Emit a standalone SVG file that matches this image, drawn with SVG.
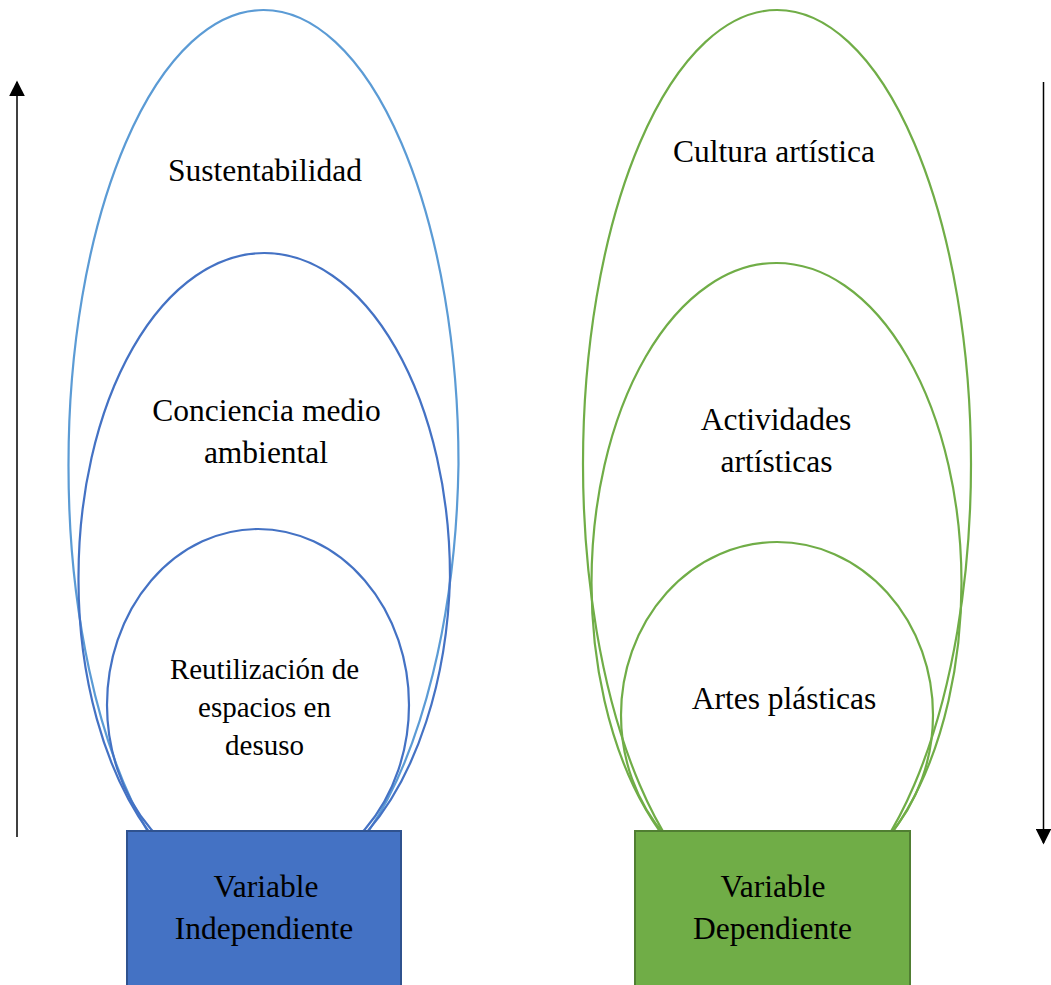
<svg xmlns="http://www.w3.org/2000/svg" width="1051" height="985" viewBox="0 0 1051 985">
  <style>
    .lbl { font-family: "Liberation Serif", "Times New Roman", serif; font-size: 31.5px; fill: #000; text-anchor: middle; }
    .sm { font-size: 29px; }
    .eb1 { fill: none; stroke: #5B9BD5; stroke-width: 2.2; }
    .eb2 { fill: none; stroke: #4472C4; stroke-width: 2.2; }
    .eg { fill: none; stroke: #70AD47; stroke-width: 2.2; }
    .rb { fill: #4472C4; stroke: #2F528F; stroke-width: 2; }
    .rg { fill: #70AD47; stroke: #507E32; stroke-width: 2; }
    .axis { stroke: #000; stroke-width: 1.5; fill: none; }
  </style>
  <defs>
    <marker id="arr" viewBox="0 0 10 10" refX="9" refY="5" markerWidth="16" markerHeight="16" markerUnits="userSpaceOnUse" orient="auto">
      <path d="M0,0 L10,5 L0,10 Z" fill="#000"/>
    </marker>
  </defs>
  <rect width="1051" height="985" fill="#fff"/>

  <g id="sustentabilidad">
    <path class="eb1" d="M 148 832 A 195 454 0 0 1 68.5 464 A 195 454 0 0 1 263.5 10 A 195 454 0 0 1 458.5 464 A 195 454 0 0 1 368 832"/>
    <text class="lbl" x="265" y="181">Sustentabilidad</text>
  </g>
  <g id="conciencia">
    <path class="eb2" d="M 149 832 A 186 322 0 0 1 78.5 577 A 185.75 324 0 0 1 264.25 253 A 185.75 324 0 0 1 450 577 A 186 322 0 0 1 367 832"/>
    <text class="lbl" x="266.5" y="421">Conciencia medio</text>
    <text class="lbl" x="266" y="463">ambiental</text>
  </g>
  <g id="reutilizacion">
    <ellipse class="eb2" cx="258" cy="705" rx="151" ry="176"/>
    <text class="lbl sm" x="264.5" y="678.5">Reutilización de</text>
    <text class="lbl sm" x="264.5" y="717">espacios en</text>
    <text class="lbl sm" x="264.5" y="755">desuso</text>
  </g>
  <g id="cultura">
    <ellipse class="eg" cx="777" cy="464" rx="194" ry="454"/>
    <text class="lbl" x="774" y="162">Cultura artística</text>
  </g>
  <g id="actividades">
    <ellipse class="eg" cx="776.5" cy="583" rx="185" ry="320"/>
    <text class="lbl" x="776" y="430">Actividades</text>
    <text class="lbl" x="776.5" y="472">artísticas</text>
  </g>
  <g id="artes">
    <ellipse class="eg" cx="777" cy="715" rx="156" ry="173"/>
    <text class="lbl" x="784" y="708.5">Artes plásticas</text>
  </g>

  <g id="var-independiente">
    <rect class="rb" x="127" y="831" width="274" height="170"/>
    <text class="lbl" x="266" y="897">Variable</text>
    <text class="lbl" x="264" y="939">Independiente</text>
  </g>
  <g id="var-dependiente">
    <rect class="rg" x="635" y="831" width="275" height="170"/>
    <text class="lbl" x="773" y="897">Variable</text>
    <text class="lbl" x="772.5" y="939">Dependiente</text>
  </g>

  <g id="connectors">
    <line class="axis" x1="17" y1="837" x2="17" y2="82" marker-end="url(#arr)"/>
    <line class="axis" x1="1043.5" y1="82" x2="1043.5" y2="843" marker-end="url(#arr)"/>
  </g>
</svg>
